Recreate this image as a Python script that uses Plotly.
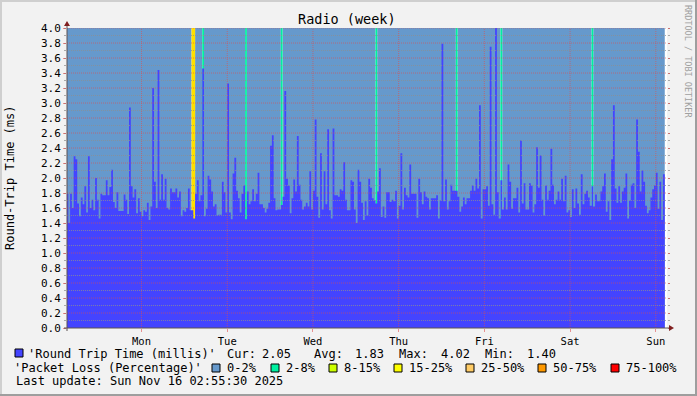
import plotly.graph_objects as go
import pandas as pd

# ---------------- data ----------------
title = "Radio (week)"
y_title = "Round-Trip Time (ms)"

# round trip time (ms), one value per 30-minute bucket
rtt_ms = [
    1.79, 1.40, 1.79, 1.60, 2.29, 2.25, 1.66, 1.49, 1.74, 1.65,
    1.89, 1.54, 2.29, 1.60, 1.71, 1.57, 2.00, 1.71, 1.46, 1.79,
    1.77, 1.77, 1.97, 1.77, 1.88, 2.11, 1.68, 1.60, 1.81, 1.56,
    1.56, 1.56, 1.78, 1.71, 1.52, 2.94, 1.89, 1.74, 1.85, 1.53,
    1.73, 1.55, 1.49, 1.57, 1.55, 1.67, 1.44, 1.62, 3.20, 1.95,
    1.60, 3.44, 1.71, 2.05, 1.71, 1.99, 1.60, 1.58, 1.86, 1.81,
    1.81, 1.86, 1.74, 1.82, 1.49, 1.57, 1.55, 1.60, 1.86, 1.57,
    1.57, 1.46, 1.79, 1.97, 1.69, 1.77, 3.46, 1.49, 1.59, 2.03,
    1.98, 1.82, 1.62, 1.65,
    1.50, 1.51, 1.51, 1.95, 1.81, 1.54, 3.26, 1.54, 1.45, 2.06,
    2.27, 1.83, 1.73, 1.54, 1.79, 1.90, 1.45, 1.82, 1.65, 1.69,
    1.85, 1.69, 1.79, 2.07, 1.65, 1.65, 1.60, 1.54, 1.59, 1.67,
    2.43, 2.57, 1.73, 1.57, 1.58, 1.58, 1.64, 1.75, 3.16, 1.99,
    1.90, 1.53, 1.73, 1.98, 1.82, 2.56, 1.91, 1.71, 1.58, 1.62,
    1.67, 1.62, 2.09, 1.58, 1.83, 2.78, 1.75, 1.47, 2.33, 1.58,
    2.09, 1.65, 2.65, 1.57, 1.46, 2.66, 1.77, 1.77, 1.75, 1.85,
    1.83, 2.21, 1.71, 1.57, 1.57, 1.97, 1.95, 1.58, 1.40, 2.11,
    1.95, 1.67, 1.44, 1.69,
    1.50, 1.99, 1.87, 1.73, 1.70, 1.66, 1.82, 2.13, 1.48, 1.62,
    1.47, 1.81, 1.81, 1.68, 1.71, 1.69, 1.83, 1.46, 1.63, 2.33,
    1.58, 1.87, 1.77, 1.74, 2.18, 1.79, 1.79, 1.79, 1.47, 1.99,
    1.81, 1.65, 1.82, 1.75, 1.73, 1.58, 1.73, 1.73, 1.73, 1.77,
    1.46, 1.70, 3.79, 1.69, 1.98, 1.58, 1.69, 1.91, 1.83, 1.83,
    1.83, 1.75, 1.55, 1.62, 1.74, 1.65, 1.73, 1.73, 1.83, 1.90,
    1.83, 1.99, 1.86, 2.97, 1.46, 1.85, 1.85, 1.89, 1.63, 3.75,
    1.65, 1.51, 4.02, 1.81, 1.46, 1.97, 1.58, 1.74, 1.58, 2.18,
    1.95, 1.59, 1.73, 1.73,
    1.87, 1.54, 2.50, 1.66, 1.93, 1.58, 1.58, 1.93, 1.90, 1.54,
    1.65, 2.41, 1.87, 2.30, 1.71, 1.50, 1.90, 1.71, 1.83, 2.39,
    1.91, 1.65, 1.71, 1.82, 1.71, 1.99, 1.69, 2.03, 1.54, 1.57,
    1.48, 1.85, 1.60, 1.86, 1.66, 1.51, 2.05, 1.65, 1.79, 1.83,
    1.74, 1.63, 1.89, 1.62, 1.78, 1.69, 1.69, 1.82, 1.89, 2.06,
    1.55, 1.69, 1.44, 2.25, 2.97, 1.86, 1.67, 1.89, 1.67, 1.82,
    1.87, 2.06, 1.46, 1.70, 1.91, 1.93, 1.60, 2.78, 2.35, 1.82,
    2.10, 1.95, 1.63, 1.53, 1.57, 1.74, 1.85, 1.90, 2.07, 1.59,
    1.95, 1.44, 2.05,
]

# buckets with packet loss (index of bucket) and the loss percentage
loss_steps = [70, 71, 76, 100, 120, 173, 218, 243, 294]
loss_pct = [20, 20, 5, 5, 5, 5, 5, 5, 5]

band_lo = [0, 2, 8, 15, 25, 50, 75]
band_hi = [2, 8, 15, 25, 50, 75, 100.01]
band_names = ["0-2%", "2-8%", "8-15%", "15-25%", "25-50%", "50-75%", "75-100%"]
band_colors = ["#6699CC", "#00F0A0", "#CCFF00", "#FFFF00", "#FFCC66", "#FF9900", "#FF0000"]
rtt_color = "#4444FF"

first_bucket = pd.Timestamp("2025-11-09 03:00")
step = pd.Timedelta(minutes=30)
view_start = pd.Timestamp("2025-11-09 03:08")
view_end = view_start + pd.Timedelta(days=7)
day_ticks = pd.date_range("2025-11-10", periods=7, freq="D")

y_max = 4.0
y_major = [round(0.2 * i, 1) for i in range(21)]
y_minor = [round(0.1 * i, 1) for i in range(41)]

stat_names = ["Cur:", "Avg:", "Max:", "Min:"]
stat_values = ["2.05", "1.83", "4.02", "1.40"]
rtt_label = "'Round Trip Time (millis)'"
loss_label = "'Packet Loss (Percentage)'"
last_update = "Last update: Sun Nov 16 02:55:30 2025"
watermark = "RRDTOOL / TOBI OETIKER"

# ---------------- style ----------------
MONO = "DejaVu Sans Mono"
BACK = "#F2F2F2"
GRID = "rgba(143,143,143,0.75)"
MGRID = "rgba(222,79,79,0.6)"
ARROW = "#801F1F"
AXIS = "#5C5050"
LOSS_DRAW = {"15-25%": "#FFE000"}  # drawn shade of the yellow band
W, H = 697, 396
L, R, T, B = 67, 30, 28, 68
PW, PH = W - L - R, H - T - B


def px(x):
    return (x - L) / PW


def py(y):
    return (H - B - y) / PH


n = len(rtt_ms)
edges = [first_bucket + k * step for k in range(n + 1)]
loss = [0.0] * n
for s, p in zip(loss_steps, loss_pct):
    loss[s] = p
band_of = []
for p in loss:
    for i in range(len(band_lo)):
        if band_lo[i] <= p < band_hi[i]:
            band_of.append(i)
            break

fig = go.Figure()
for b in range(len(band_names)):
    if b not in band_of:
        continue
    yy = [y_max if band_of[k] == b else 0 for k in range(n)]
    yy.append(yy[-1])
    fig.add_trace(go.Scatter(
        x=edges, y=yy, mode="lines", line=dict(width=0, shape="hv"),
        fill="tozeroy", fillcolor=LOSS_DRAW.get(band_names[b], band_colors[b]), yaxis="y",
        hoverinfo="skip", showlegend=False))

fig.add_trace(go.Scatter(
    x=edges, y=rtt_ms + [rtt_ms[-1]], mode="lines",
    line=dict(width=0, shape="hv"), fill="tozeroy", fillcolor=rtt_color,
    yaxis="y2", hoverinfo="skip", showlegend=False))

shapes = []
# grid drawn over the data, like rrdtool
for v in y_minor[1:]:
    major = any(abs(v - m) < 1e-6 for m in y_major)
    shapes.append(dict(type="line", xref="paper", yref="y", x0=0, x1=1, y0=v, y1=v,
                       layer="above", line=dict(color=MGRID if major else GRID, width=1, dash="1px,1px")))
for d in day_ticks:
    shapes.append(dict(type="line", xref="x", yref="paper", x0=d, x1=d, y0=0, y1=1,
                       layer="above", line=dict(color=MGRID, width=1, dash="1px,1px")))
# axes lines and arrows
shapes.append(dict(type="line", xref="paper", yref="paper", x0=px(L), x1=px(L), y0=py(H - B + 3), y1=py(24),
                   layer="above", line=dict(color=AXIS, width=1)))
shapes.append(dict(type="line", xref="paper", yref="paper", x0=px(L - 3), x1=px(671), y0=0, y1=0,
                   layer="above", line=dict(color=AXIS, width=1)))
shapes.append(dict(type="path", xref="paper", yref="paper",
                   path=f"M {px(L-3)} {py(26)} L {px(L+3)} {py(26)} L {px(L)} {py(21)} Z",
                   fillcolor=ARROW, line=dict(width=0), layer="above"))
shapes.append(dict(type="path", xref="paper", yref="paper",
                   path=f"M {px(669)} {py(H-B-3)} L {px(669)} {py(H-B+3)} L {px(674)} {py(H-B)} Z",
                   fillcolor=ARROW, line=dict(width=0), layer="above"))
# 3D frame
shapes.append(dict(type="line", xref="paper", yref="paper", x0=px(0), x1=px(W), y0=py(1), y1=py(1),
                   line=dict(color="#CFCFCF", width=2)))
shapes.append(dict(type="line", xref="paper", yref="paper", x0=px(1), x1=px(1), y0=py(0), y1=py(H),
                   line=dict(color="#CFCFCF", width=2)))
shapes.append(dict(type="line", xref="paper", yref="paper", x0=px(0), x1=px(W), y0=py(H - 1), y1=py(H - 1),
                   line=dict(color="#9E9E9E", width=2)))
shapes.append(dict(type="line", xref="paper", yref="paper", x0=px(W - 1), x1=px(W - 1), y0=py(0), y1=py(H),
                   line=dict(color="#9E9E9E", width=2)))


def box(x0, y0, color):
    return dict(type="rect", xref="paper", yref="paper", x0=px(x0), x1=px(x0 + 8), y0=py(y0 + 8), y1=py(y0),
                fillcolor=color, line=dict(color="black", width=1))


ann = []


def text(t, x, y, size=12, color="black", xanchor="left", angle=0):
    ann.append(dict(text=t, x=px(x), y=py(y), xref="paper", yref="paper", showarrow=False,
                    xanchor=xanchor, yanchor="middle", textangle=angle, borderpad=0, borderwidth=0,
                    font=dict(family=MONO, size=size, color=color)))


text(title, 347, 19, size=13.5, xanchor="center")
text(y_title, 10, 178, size=12, xanchor="center", angle=-90)
text(watermark, 688, 61, size=8.5, color="#A0A0A0", xanchor="center", angle=90)

# legend row 1
shapes.append(box(15, 349, rtt_color))
text(rtt_label, 28, 353.5)
stat_x = [227, 314, 399, 485]
val_x = [262, 355, 441, 527]
for nm, v, xn, xv in zip(stat_names, stat_values, stat_x, val_x):
    text(nm, xn, 353.5)
    text(v, xv, 353.5)
# legend row 2
text(loss_label, 14, 367.5)
sq_x = [212, 271, 329, 394, 466, 538, 611]
for nm, c, sx in zip(band_names, band_colors, sq_x):
    shapes.append(box(sx, 364, c))
    text(nm, sx + 15, 367.5)
# row 3
text(last_update, 15.5, 381.5)

fig.update_layout(
    width=W, height=H, margin=dict(l=L, r=R, t=T, b=B, pad=0),
    paper_bgcolor=BACK, plot_bgcolor="white",
    shapes=shapes, annotations=ann, showlegend=False,
    xaxis=dict(type="date", range=[view_start, view_end], tickvals=list(day_ticks),
               ticktext=[d.strftime("%a") for d in day_ticks], ticks="outside", ticklen=3,
               tickcolor=MGRID, showgrid=False, zeroline=False, showline=False,
               tickfont=dict(family=MONO, size=10.5, color="black")),
    yaxis=dict(range=[0, y_max], tickvals=y_major, ticktext=[f"{v:.1f}" for v in y_major],
               ticks="outside", ticklen=3, tickcolor=MGRID, showgrid=False, zeroline=False,
               showline=False, tickfont=dict(family=MONO, size=11, color="black"),
               minor=dict(tickvals=y_minor, ticks="outside", ticklen=2, tickcolor=GRID, showgrid=False)),
    yaxis2=dict(range=[0, y_max], overlaying="y", side="right", tickvals=y_major,
                showticklabels=False, ticks="outside", ticklen=2, tickcolor=MGRID,
                showgrid=False, zeroline=False, showline=False,
                minor=dict(tickvals=y_minor, ticks="outside", ticklen=2, tickcolor=GRID, showgrid=False)),
)

fig.write_html("out.html", config={"displayModeBar": False},
               post_script="document.body.style.margin='0';document.body.style.overflow='hidden';")
